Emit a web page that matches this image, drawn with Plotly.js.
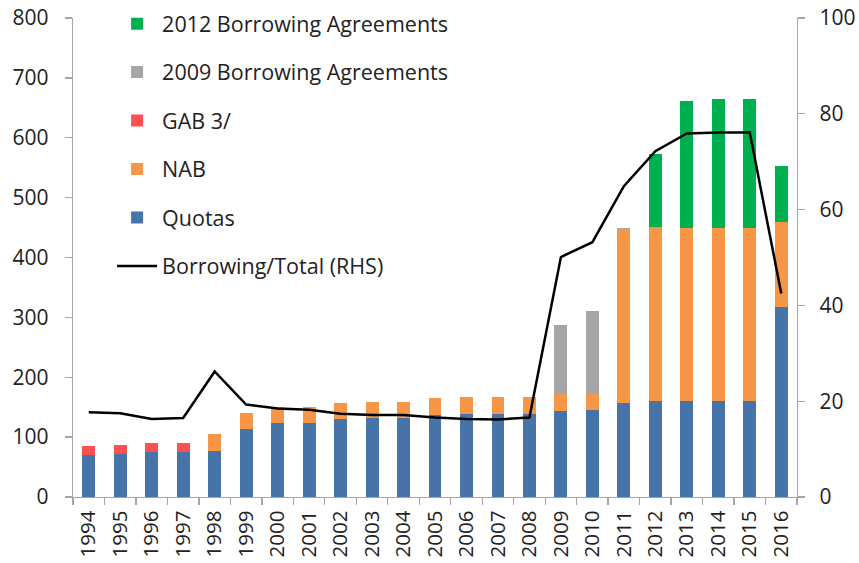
<!DOCTYPE html>
<html>
<head>
<meta charset="utf-8">
<script src="https://cdn.plot.ly/plotly-3.0.1.min.js"></script>
<style>html,body{margin:0;padding:0;background:#fff;}#chart{width:859px;height:563px;}</style>
</head>
<body>
<div id="chart"></div>
<script>
var years = ['1994','1995','1996','1997','1998','1999','2000','2001','2002','2003','2004','2005','2006','2007','2008','2009','2010','2011','2012','2013','2014','2015','2016'];
var quotas = [70,72,76,76,77,114,123,123,130,132,132,137,139,139,139,144,145,157,160,160,160,160,317];
var nab    = [0,0,0,0,28,27,27,27,27,27,27,28,28,28,28,28,27,290,291,290,290,290,143];
var gab    = [15,15,14,14,0,0,0,0,0,0,0,0,0,0,0,0,0,0,0,0,0,0,0];
var ba2009 = [0,0,0,0,0,0,0,0,0,0,0,0,0,0,0,116,138,2,0,0,0,0,0];
var ba2012 = [0,0,0,0,0,0,0,0,0,0,0,0,0,0,0,0,0,0,122,212,215,215,92];
var borrowingShare = [17.7,17.5,16.3,16.5,26.2,19.3,18.5,18.2,17.4,17.1,17.1,16.6,16.3,16.2,16.6,50.1,53.2,64.9,72.2,75.9,76.1,76.1,42.5];

var FONT = 'Open Sans, Noto Sans, sans-serif';
function bar(name, vals, color, rank){
  return {type:'bar', name:name, x:years, y:vals, marker:{color:color}, legendrank:rank, legendgroup:name, hoverinfo:'skip'};
}
var traces = [
  bar('Quotas', quotas, '#4673A8', 5),
  bar('NAB', nab, '#F79646', 4),
  bar('GAB 3/', gab, '#FF5050', 3),
  bar('2009 Borrowing Agreements', ba2009, '#A6A6A6', 2),
  bar('2012 Borrowing Agreements', ba2012, '#00B050', 1),
  {type:'scatter', mode:'lines', name:'Borrowing/Total (RHS)', x:years, y:borrowingShare, yaxis:'y2',
   line:{color:'#000', width:2.5}, legendrank:6, legendgroup:'line', hoverinfo:'skip'}
];
var axisCommon = {showgrid:false, zeroline:false, showline:true, linecolor:'#A6A6A6', linewidth:1.3,
  ticks:'outside', tickcolor:'#A6A6A6', ticklen:7, tickwidth:1.3, ticklabelstandoff:12,
  tickfont:{family:FONT, size:21, color:'#222'}};
var layout = {
  width:859, height:563,
  margin:{l:73, r:62, t:18, b:66, autoexpand:false},
  paper_bgcolor:'#fff', plot_bgcolor:'#fff',
  barmode:'stack', bargap:0.59,
  font:{family:FONT, color:'#222'},
  xaxis:Object.assign({}, axisCommon, {type:'category', tickangle:-90, tickson:'boundaries', ticklabelstandoff:4,
    tickfont:{family:FONT, size:20.5, color:'#222'}}),
  yaxis:Object.assign({}, axisCommon, {range:[0,800], dtick:100}),
  yaxis2:Object.assign({}, axisCommon, {range:[0,100], dtick:20, overlaying:'y', side:'right', ticklabelstandoff:10}),
  showlegend:true,
  legend:{x:0.054, y:1.031, xanchor:'left', yanchor:'top', traceorder:'grouped', tracegroupgap:17.5,
    maxheight:1, bgcolor:'rgba(0,0,0,0)', font:{family:FONT, size:21.5, color:'#222'}, itemwidth:40}
};
Plotly.newPlot('chart', traces, layout, {displayModeBar:false, staticPlot:true});
</script>
</body>
</html>
